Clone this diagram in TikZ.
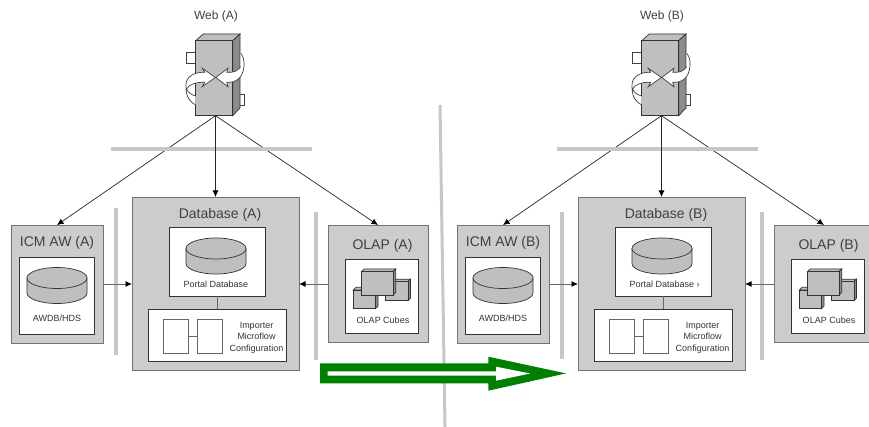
\documentclass[tikz,border=0pt]{standalone}
\usepackage{fontspec}
\setmainfont{Liberation Sans}
\usetikzlibrary{arrows.meta}
\tikzset{
    panel/.style={draw=black!55, fill=black!20, line width=0.9pt, inner sep=0pt, outer sep=0pt},
    card/.style={draw=black!80, fill=white, line width=0.8pt, inner sep=0pt, outer sep=0pt},
    slot/.style={draw=black!60, fill=white, line width=0.7pt, inner sep=0pt, outer sep=0pt},
    bar/.style={draw=black!22, line width=4pt},
    link/.style={draw=black!85, line width=0.7pt, -{Latex[black, length=6.5pt, width=6pt]}},
    sidelink/.style={draw=black!60, line width=0.8pt, -{Latex[black, length=6.5pt, width=6pt]}},
    tie/.style={draw=black!60, line width=0.9pt},
    title/.style={text=black!75, font=\fontsize{14}{16}\selectfont, inner sep=0pt},
    webtitle/.style={text=black!75, font=\fontsize{12}{14}\selectfont, inner sep=0pt},
    small/.style={text=black!80, font=\fontsize{9}{11.5}\selectfont, inner sep=0pt, align=center},
    solid part/.style={draw=black!80, fill=black!25, line width=0.7pt},
    dark part/.style={draw=black!80, fill=black!45, line width=0.7pt},
    turn/.style={draw=black!75, fill=white, line width=0.7pt, line join=miter}
}
% drum: centre of top ellipse at #1,#2
\newcommand{\drumshape}[2]{
    \draw[solid part] (#1-30,#2) -- (#1-30,#2+15) arc[start angle=180, end angle=0, x radius=30, y radius=10.5]
        -- (#1+30,#2) -- cycle;
    \draw[solid part] (#1,#2) ellipse[x radius=30, y radius=10.5];
}
% cube: left, top, right, bottom of front face, depth #5
\newcommand{\cubeshape}[5]{
    \draw[solid part] (#1,#2) -- (#1+#5,#2-#5) -- (#3+#5,#2-#5) -- (#3,#2) -- cycle;
    \draw[dark part] (#3,#2) -- (#3+#5,#2-#5) -- (#3+#5,#4-#5) -- (#3,#4) -- cycle;
    \draw[solid part] (#1,#2) rectangle (#3,#4);
}
\begin{document}
\begin{tikzpicture}[x=1pt, y=-1pt]
    \clip (0,0) rectangle (869,427);
    \fill[white] (0,0) rectangle (869,427);

    % divider
    \draw[draw=black!22, line width=3pt] (440,105) -- (445,427);

    \foreach \side/\dx/\bartop/\portalmark in {A/0/208/{},B/446/212/{ ›}}
    {
        \begin{scope}[xshift=\dx pt]
            % boxes
            \node[panel, minimum width=92pt, minimum height=118pt] (icm\side) at (57,284) {};
            \node[panel, minimum width=167pt, minimum height=173pt] (db\side) at (215.5,283.5) {};
            \node[panel, minimum width=100pt, minimum height=117pt] (olap\side) at (378,283.5) {};

            \node[webtitle] (webtitle\side) at (216,16) {Web (\side)};
            \node[title] (icmtitle\side) at (57,243) {ICM AW (\side)};
            \node[title] (dbtitle\side) at (220,214.5) {Database (\side)};
            \node[title] (olaptitle\side) at (382.5,245.5) {OLAP (\side)};

            % server
            \coordinate (apex\side) at (215.5,115.7);
            \draw[card, draw=black!75] (186,52) rectangle (196,63);
            \draw[card, draw=black!75] (239,94) rectangle (244,105);
            \draw[solid part] (195.7,40.7) -- (203.2,34) -- (240,34) -- (232.7,40.7) -- cycle;
            \draw[dark part] (232.7,40.7) -- (240,34) -- (240,108) -- (232.7,115.7) -- cycle;
            \draw[solid part] (195.7,40.7) rectangle (232.7,115.7);
            \draw[turn] (195.7,105) .. controls (187,100) and (186,94) .. (186,85)
                .. controls (186,76) and (195,72) .. (204.7,72.3) -- (202.3,68.3) -- (215.3,77.5)
                -- (202.3,86.7) -- (204.7,82.3) .. controls (197,82) and (189,84) .. (186.5,89)
                .. controls (188,93) and (192,95) .. (195.7,96);
            \draw[turn] (240.7,53.3) .. controls (243,56) and (244.5,60) .. (244,66)
                .. controls (243,78) and (236,83) .. (226.7,82.3) -- (228,86.7) -- (215.7,77.5)
                -- (228,68.3) -- (226.7,72.3) .. controls (233,73) and (238,71) .. (240.7,66.7);

            % diagonal links run behind the bus bar
            \draw[link] (apex\side) -- (icm\side.north);
            \draw[link] (apex\side) -- (olap\side.north);

            % bars
            \draw[bar] (111,149) -- (312,149);
            \draw[bar] (116,\bartop) -- (116,\bartop+147);
            \draw[bar] (315.7,212) -- (315.7,359.5);

            \draw[link] (apex\side) -- (db\side.north);

            % ICM AW
            \node[card, minimum width=75.5pt, minimum height=77.5pt] (icmcard\side) at (56.7,295.7) {};
            \drumshape{57}{278}
            \node[small] (icmlabel\side) at (57,318) {AWDB/HDS};

            % Database
            \node[card, minimum width=96pt, minimum height=69pt] (portal\side) at (217.5,261.5) {};
            \drumshape{216}{248.5}
            \node[small, anchor=west] (portallabel\side) at (183.5,284) {Portal Database\portalmark};
            \node[card, minimum width=138pt, minimum height=52.7pt] (importer\side) at (217.5,335.3) {};
            \draw[tie] (portal\side.south) -- (importer\side.north);
            \node[slot, minimum width=25pt, minimum height=33.5pt] (slotone\side) at (176,336.2) {};
            \node[slot, minimum width=25.5pt, minimum height=33.5pt] (slottwo\side) at (209.7,336.2) {};
            \draw[tie] (slotone\side) -- (slottwo\side);
            \node[small] (importerlabel\side) at (256.5,337.5) {Importer\\Microflow\\Configuration};

            % OLAP
            \node[card, minimum width=73.5pt, minimum height=74.7pt] (olapcard\side) at (381.7,296.4) {};
            \cubeshape{385}{281.7}{408}{300.7}{2.5}
            \cubeshape{353.3}{290}{375.3}{308.7}{2.7}
            \cubeshape{361.5}{271.7}{393}{295}{2.7}
            \node[small] (olaplabel\side) at (383,320) {OLAP Cubes};

            % links
            \coordinate (icmport\side) at (103,284);
            \coordinate (dbinleft\side) at (132,284);
            \coordinate (olapport\side) at (328,284);
            \coordinate (dbinright\side) at (299,284);
            \draw[sidelink] (icmport\side) -- (dbinleft\side);
            \draw[sidelink] (olapport\side) -- (dbinright\side);
        \end{scope}
    }

    % move arrow
    \fill[green!50!black] (320,363.3) -- (488.3,363.3) -- (488.3,356.7) -- (566,373.4)
        -- (488.3,390.7) -- (488.3,383.3) -- (320,383.3) -- cycle;
    \fill[white] (327.7,371.3) -- (496,371.3) -- (496,366.7) -- (530,373.5)
        -- (496,380.7) -- (496,375.7) -- (327.7,375.7) -- cycle;
\end{tikzpicture}
\end{document}
